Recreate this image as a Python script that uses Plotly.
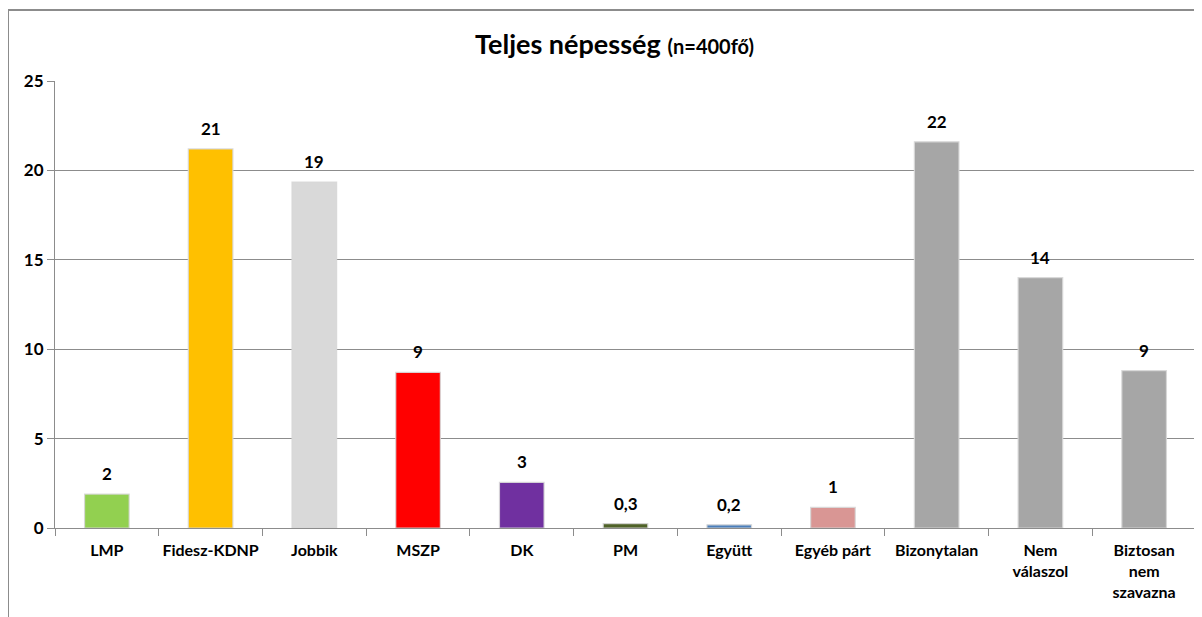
import plotly.graph_objects as go

categories = ["LMP", "Fidesz-KDNP", "Jobbik", "MSZP", "DK", "PM", "Együtt",
              "Egyéb párt", "Bizonytalan", "Nem<br>válaszol", "Biztosan<br>nem<br>szavazna"]
values = [1.9, 21.2, 19.35, 8.7, 2.55, 0.25, 0.18, 1.15, 21.6, 14.0, 8.8]
value_labels = ["2", "21", "19", "9", "3", "0,3", "0,2", "1", "22", "14", "9"]
colors = ["#92D050", "#FFC000", "#D9D9D9", "#FF0000", "#7030A0", "#4F6228",
          "#4A7EBB", "#D99694", "#A6A6A6", "#A6A6A6", "#A6A6A6"]
y_ticks = [0, 5, 10, 15, 20, 25]

FONT = "Lato, 'Open Sans', sans-serif"
W, H = 1194, 609  # page has an 8px body margin

fig = go.Figure()
fig.add_trace(go.Bar(
    x=categories, y=values,
    marker=dict(color=colors, line=dict(color="rgba(215,215,215,0.9)", width=1.2)),
    hoverinfo="skip",
))

for c, v, t in zip(categories, values, value_labels):
    fig.add_annotation(x=c, y=v, text="<b>%s</b>" % t, showarrow=False,
                       yanchor="bottom", yshift=8,
                       font=dict(family=FONT, size=17, color="#000000"))

L, R, T, B = 47, 6, 73, 89
pw = W - L - R
ph = H - T - B

fig.update_layout(
    width=W, height=H,
    margin=dict(l=L, r=R, t=T, b=B, autoexpand=False),
    paper_bgcolor="white", plot_bgcolor="white",
    showlegend=False,
    bargap=0.57,
    font=dict(family=FONT, color="#000000"),
    title=dict(
        text="<b>Teljes népesség</b> <span style='font-size:20px'><b>(n=400fő)</b></span>",
        x=0.508, xanchor="center", y=1 - 37 / H, yanchor="middle",
        font=dict(family=FONT, size=27, color="#000000"),
    ),
    xaxis=dict(
        type="category",
        showline=True, linecolor="#8C8C8C", linewidth=1,
        ticks="outside", tickson="boundaries", ticklen=7, tickcolor="#8C8C8C",
        tickfont=dict(family=FONT, size=16, color="#000000"),
        tickangle=0, ticklabelstandoff=8,
        showgrid=False,
    ),
    yaxis=dict(
        range=[0, 25], tickvals=y_ticks,
        showline=True, linecolor="#8C8C8C", linewidth=1,
        ticks="outside", ticklen=7, tickcolor="#8C8C8C",
        showgrid=True, gridcolor="#8C8C8C", gridwidth=1,
        tickfont=dict(family=FONT, size=17, color="#000000", weight="bold"),
        zeroline=False,
    ),
    shapes=[dict(type="rect", xref="paper", yref="paper",
                 x0=(0 - L) / pw, x1=(W + 20 - L) / pw,
                 y0=(T + ph - H - 30) / ph, y1=(T + ph - 2) / ph,
                 line=dict(color="#8C8C8C", width=2), fillcolor="rgba(0,0,0,0)",
                 layer="below")],
)

fig.update_xaxes(tickvals=categories,
                 ticktext=["<b>%s</b>" % c for c in categories])

fig.write_html("out.html")
